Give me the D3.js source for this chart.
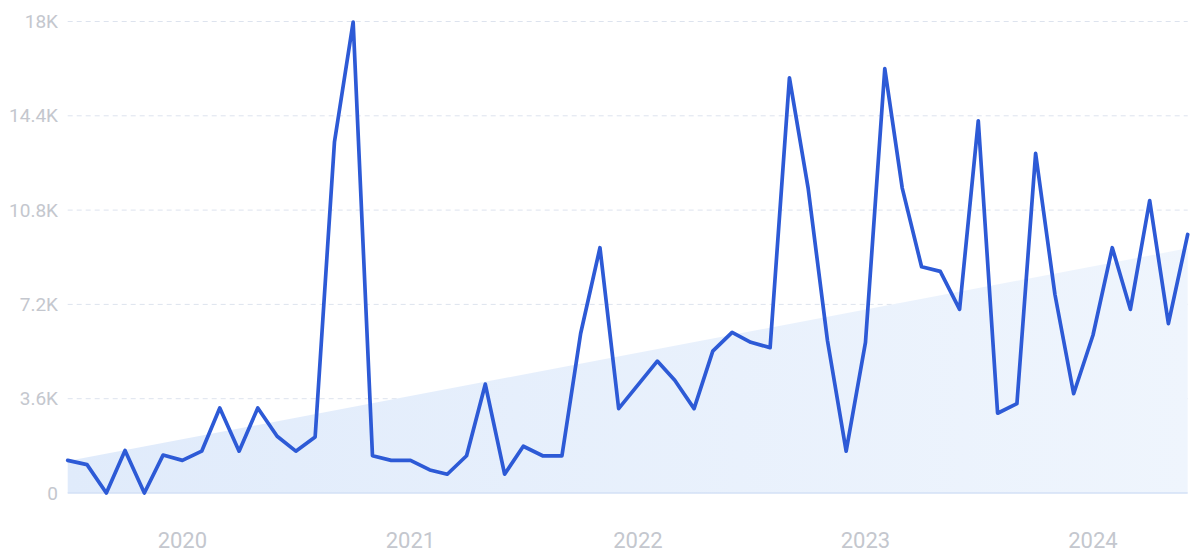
<!DOCTYPE html>
<html>
<head>
<meta charset="utf-8">
<script src="https://cdn.jsdelivr.net/npm/d3@7"></script>
<style>
  html, body { margin: 0; padding: 0; background: #ffffff; }
  svg { display: block; }
</style>
</head>
<body>
<svg id="chart" width="1200" height="556"></svg>
<script>
// ---- Data (monthly, Jul 2019 – Jun 2024) ----
const startMonth = "2019-07";
const values = [
  1245, 1083, 0, 1624, 0, 1448,            // Jul–Dec 2019
  1245, 1597, 3248, 1597, 3248, 2165,      // Jan–Jun 2020
  1597, 2138, 13398, 17980, 1421, 1245,    // Jul–Dec 2020
  1245, 880, 717, 1421, 4155, 717,         // Jan–Jun 2021
  1786, 1421, 1421, 6090, 9365, 3221,      // Jul–Dec 2021
  4128, 5035, 4304, 3221, 5414, 6131,      // Jan–Jun 2022
  5752, 5549, 15850, 11639, 5820, 1597,    // Jul–Dec 2022
  5752, 16200, 11639, 8635, 8459, 7011,    // Jan–Jun 2023
  14211, 3045, 3411, 12965, 7579, 3789,    // Jul–Dec 2023
  6023, 9365, 7011, 11165, 6469, 9870      // Jan–Jun 2024
];
const trendValues = [1220, 9340];          // trend band, first and last month
const yTicks = [0, 3600, 7200, 10800, 14400, 18000];
const yTickLabels = ["0", "3.6K", "7.2K", "10.8K", "14.4K", "18K"];
const xTickYears = [2020, 2021, 2022, 2023, 2024];

// ---- Build ----
const parse = d3.timeParse("%Y-%m");
const start = parse(startMonth);
const data = values.map((v, i) => ({ date: d3.timeMonth.offset(start, i), value: v }));
const first = data[0].date, last = data[data.length - 1].date;
const trend = [{ date: first, value: trendValues[0] }, { date: last, value: trendValues[1] }];

const svg = d3.select("#chart");
const x = d3.scaleTime().domain([first, last]).range([67.7, 1187.7]);
const y = d3.scaleLinear().domain([0, 18000]).range([493, 21.5]);

const defs = svg.append("defs");
const grad = defs.append("linearGradient").attr("id", "trendFill")
  .attr("x1", "0%").attr("x2", "100%").attr("y1", "0%").attr("y2", "0%");
grad.append("stop").attr("offset", "0%").attr("stop-color", "#e0ebfb");
grad.append("stop").attr("offset", "100%").attr("stop-color", "#eff5fd");

// gridlines
svg.append("g").selectAll("line").data(yTicks.filter(d => d > 0)).join("line")
  .attr("x1", x(first)).attr("x2", x(last))
  .attr("y1", d => y(d)).attr("y2", d => y(d))
  .attr("stroke", "#dde3ee").attr("stroke-width", 1)
  .attr("stroke-dasharray", "5,4");

// trend area
svg.append("path").datum(trend)
  .attr("fill", "url(#trendFill)")
  .attr("d", d3.area().x(d => x(d.date)).y0(y(0)).y1(d => y(d.value)));

// baseline
svg.append("line")
  .attr("x1", x(first)).attr("x2", x(last))
  .attr("y1", y(0)).attr("y2", y(0))
  .attr("stroke", "#d3e1f6").attr("stroke-width", 1.5);

// y labels
svg.append("g").selectAll("text").data(yTicks).join("text")
  .attr("x", 58).attr("y", d => y(d))
  .attr("text-anchor", "end").attr("dominant-baseline", "central")
  .attr("font-family", "Roboto, 'Noto Sans', sans-serif")
  .attr("font-size", 19).attr("fill", "#c4c7ce")
  .text((d, i) => yTickLabels[i]);

// x labels
svg.append("g").selectAll("text").data(xTickYears).join("text")
  .attr("x", d => x(new Date(d, 0, 1))).attr("y", 540)
  .attr("text-anchor", "middle").attr("dominant-baseline", "central")
  .attr("font-family", "Roboto, 'Noto Sans', sans-serif")
  .attr("font-size", 22).attr("fill", "#c4c7ce")
  .text(d => String(d));

// main line
svg.append("path").datum(data)
  .attr("fill", "none").attr("stroke", "#2d5ad6")
  .attr("stroke-width", 3.7).attr("stroke-linejoin", "round").attr("stroke-linecap", "round")
  .attr("d", d3.line().x(d => x(d.date)).y(d => y(d.value)));
</script>
</body>
</html>
